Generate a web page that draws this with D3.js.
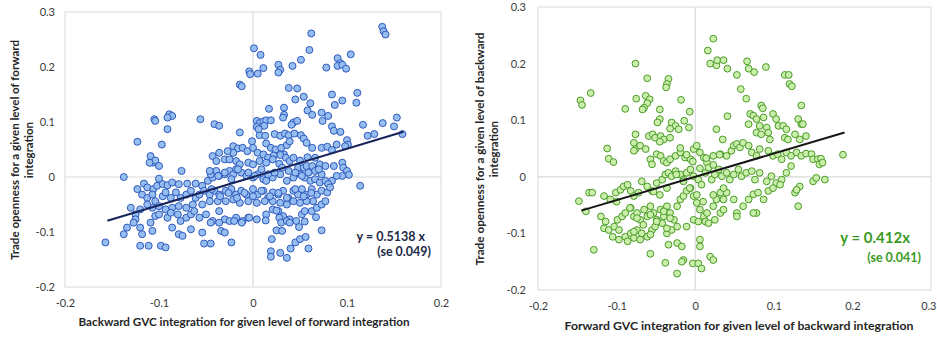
<!DOCTYPE html>
<html>
<head>
<meta charset="utf-8">
<script src="https://cdn.jsdelivr.net/npm/d3@7/dist/d3.min.js"></script>
<style>
  html, body { margin: 0; padding: 0; background: #fff; }
  svg { display: block; font-family: Lato, "Open Sans", sans-serif; }
</style>
</head>
<body>
<svg id="chart" width="937" height="337"></svg>
<script>
// Backward GVC integration (x) vs trade openness (y), for a given level of forward integration
const backwardPoints = [
  [0.1375,0.273],[0.139,0.265],[0.141,0.259],[0.062,0.261],[0.001,0.234],[0.008,0.222],[0.060,0.231],[0.051,0.213],
  [0.104,0.223],[0.090,0.216],[0.093,0.207],[0.090,0.202],[0.095,0.204],[0.099,0.197],[0.078,0.199],[0.042,0.202],
  [0.027,0.204],[0.029,0.195],[0.027,0.190],[0.011,0.198],[-0.004,0.192],[-0.003,0.187],[0.005,0.188],[-0.014,0.168],
  [-0.012,0.165],[0.038,0.162],[0.047,0.161],[0.045,0.141],[0.054,0.146],[0.084,0.150],[0.111,0.153],[0.110,0.135],
  [0.061,0.134],[0.058,0.121],[0.087,0.131],[0.095,0.139],[0.017,0.124],[0.033,0.126],[0.033,0.113],[0.032,0.108],
  [0.073,0.117],[0.080,0.111],[0.063,0.113],[-0.089,0.114],[-0.086,0.111],[-0.091,0.108],[-0.105,0.105],[-0.104,0.102],
  [-0.056,0.105],[-0.041,0.096],[-0.036,0.093],[-0.091,0.087],[0.004,0.102],[0.007,0.098],[0.011,0.101],[0.014,0.103],
  [0.019,0.103],[0.012,0.093],[0.004,0.091],[0.043,0.099],[0.047,0.102],[0.041,0.095],[0.074,0.102],[0.117,0.095],
  [0.138,0.098],[0.150,0.092],[0.153,0.108],[0.159,0.078],[0.122,0.075],[0.129,0.078],[0.084,0.092],[0.086,0.084],
  [0.093,0.082],[-0.014,0.081],[0.007,0.076],[0.013,0.075],[0.006,0.087],[-0.001,0.065],[0.023,0.078],[0.029,0.075],
  [0.034,0.079],[0.038,0.076],[0.044,0.079],[0.051,0.076],[0.054,0.070],[-0.123,0.064],[-0.097,0.059],[0.100,0.067],
  [0.101,0.059],[0.098,0.056],[0.057,0.062],[0.063,0.053],[0.073,0.053],[0.079,0.055],[0.084,0.049],[0.089,0.059],
  [0.014,0.061],[0.019,0.053],[0.024,0.050],[0.030,0.053],[0.036,0.058],[0.039,0.065],[0.033,0.041],[0.029,0.040],
  [0.022,0.039],[-0.021,0.056],[-0.016,0.052],[-0.011,0.053],[-0.006,0.047],[0.000,0.053],[0.005,0.044],[0.011,0.041],
  [0.016,0.035],[0.021,0.032],[-0.021,0.044],[-0.027,0.047],[-0.036,0.044],[-0.043,0.038],[-0.039,0.029],[-0.030,0.032],
  [-0.025,0.032],[-0.018,0.029],[-0.014,0.023],[-0.005,0.026],[0.000,0.023],[0.007,0.029],[0.014,0.026],[0.028,0.024],
  [0.035,0.035],[0.039,0.029],[0.043,0.035],[0.050,0.030],[0.058,0.036],[0.066,0.035],[0.071,0.023],[0.077,0.020],
  [0.048,0.017],[0.054,0.017],[0.057,0.020],[0.063,0.020],[0.066,0.011],[0.086,0.020],[0.095,0.026],[0.096,0.017],
  [0.100,0.011],[0.102,0.004],[0.095,0.002],[0.089,0.002],[0.084,-0.007],[0.114,-0.016],[-0.109,0.038],[-0.107,0.026],
  [-0.104,0.030],[-0.100,0.020],[-0.110,0.026],[-0.076,0.011],[-0.1375,0.000],[-0.100,-0.003],[-0.116,-0.012],[-0.1125,-0.019],
  [-0.106,-0.022],[-0.102,-0.016],[-0.096,-0.013],[-0.091,-0.015],[-0.086,-0.010],[-0.079,-0.013],[-0.070,-0.012],[-0.061,-0.012],
  [-0.054,-0.016],[-0.048,-0.007],[-0.043,-0.001],[-0.039,0.011],[-0.045,0.005],[-0.036,0.002],[-0.030,0.005],[-0.025,0.011],
  [-0.021,0.005],[-0.018,0.014],[-0.0125,0.008],[-0.007,0.002],[0.000,-0.001],[0.005,0.005],[0.011,-0.004],[0.014,-0.007],
  [0.021,-0.001],[0.029,0.005],[0.036,-0.007],[0.043,-0.001],[0.050,0.005],[0.055,-0.001],[0.061,-0.007],[0.066,-0.004],
  [0.071,-0.010],[0.077,-0.007],[0.080,-0.013],[0.073,0.005],[0.070,0.014],[-0.123,-0.022],[-0.118,-0.032],[-0.1125,-0.038],
  [-0.107,-0.032],[-0.104,-0.044],[-0.096,-0.035],[-0.093,-0.028],[-0.0875,-0.038],[-0.082,-0.028],[-0.077,-0.038],[-0.071,-0.032],
  [-0.066,-0.025],[-0.061,-0.038],[-0.057,-0.032],[-0.052,-0.025],[-0.046,-0.032],[-0.041,-0.025],[-0.036,-0.032],[-0.029,-0.025],
  [-0.023,-0.022],[-0.018,-0.032],[-0.0125,-0.025],[-0.007,-0.032],[0.000,-0.022],[0.005,-0.032],[0.011,-0.025],[0.016,-0.038],
  [0.021,-0.028],[0.027,-0.032],[0.032,-0.025],[0.0375,-0.038],[0.043,-0.025],[0.048,-0.032],[0.052,-0.022],[0.057,-0.032],
  [0.0625,-0.022],[0.068,-0.032],[0.073,-0.025],[0.079,-0.028],[0.082,-0.019],[0.064,-0.044],[0.057,-0.044],[0.050,-0.047],
  [0.043,-0.044],[0.036,-0.050],[0.029,-0.047],[0.021,-0.044],[0.0125,-0.044],[0.004,-0.047],[-0.005,-0.044],[-0.014,-0.047],
  [-0.021,-0.041],[-0.029,-0.044],[-0.0375,-0.044],[-0.046,-0.044],[-0.054,-0.050],[-0.064,-0.050],[-0.071,-0.056],[-0.079,-0.053],
  [-0.086,-0.056],[-0.093,-0.059],[-0.100,-0.053],[-0.107,-0.056],[-0.1125,-0.050],[-0.120,-0.059],[-0.125,-0.068],[-0.130,-0.056],
  [-0.125,-0.077],[-0.127,-0.083],[-0.134,-0.092],[-0.1375,-0.104],[-0.120,-0.092],[-0.118,-0.104],[-0.120,-0.125],[-0.111,-0.125],
  [-0.107,-0.098],[-0.109,-0.083],[-0.104,-0.071],[-0.100,-0.068],[-0.091,-0.074],[-0.0875,-0.065],[-0.080,-0.068],[-0.077,-0.080],
  [-0.071,-0.074],[-0.066,-0.068],[-0.0625,-0.062],[-0.057,-0.074],[-0.050,-0.068],[-0.043,-0.080],[-0.036,-0.062],[-0.030,-0.077],
  [-0.025,-0.080],[-0.018,-0.074],[-0.011,-0.080],[-0.005,-0.074],[0.014,-0.068],[0.021,-0.059],[0.027,-0.062],[0.032,-0.071],
  [0.039,-0.077],[0.046,-0.080],[0.052,-0.068],[0.055,-0.062],[0.0625,-0.062],[0.068,-0.056],[0.073,-0.050],[-0.157,-0.119],
  [-0.098,-0.125],[-0.093,-0.128],[-0.086,-0.092],[-0.079,-0.104],[-0.075,-0.107],[-0.066,-0.095],[-0.054,-0.101],[-0.052,-0.121],
  [-0.045,-0.121],[-0.045,-0.083],[-0.036,-0.083],[-0.034,-0.098],[-0.030,-0.101],[-0.023,-0.119],[-0.020,-0.080],[-0.012,-0.083],
  [-0.004,-0.074],[0.004,-0.077],[0.0135,-0.079],[0.025,-0.061],[0.028,-0.074],[0.030,-0.083],[0.036,-0.080],[0.039,-0.083],
  [0.025,-0.097],[0.031,-0.098],[0.020,-0.113],[0.019,-0.135],[0.019,-0.145],[0.029,-0.138],[0.036,-0.147],[0.040,-0.130],
  [0.045,-0.119],[0.050,-0.113],[0.056,-0.109],[0.059,-0.130],[0.049,-0.091],[0.055,-0.081],[0.067,-0.073],[0.073,-0.097],
  [0.077,-0.044],[-0.046,0.011],[-0.037,0.002],[-0.030,0.008],[-0.023,-0.004],[-0.016,0.014],[-0.005,0.008],[0.002,0.002],
  [0.009,0.014],[0.016,0.005],[0.023,0.008],[0.031,0.017],[0.038,0.011],[0.045,0.008],[0.052,0.002],[0.059,0.008],
  [-0.044,-0.022],[-0.035,-0.035],[-0.026,-0.029],[-0.017,-0.038],[-0.009,-0.029],[0.000,-0.035],[0.009,-0.025],[0.018,-0.035],
  [0.027,-0.029],[0.036,-0.038],[0.045,-0.022],[0.054,-0.035],[0.062,-0.029]
];

// Forward GVC integration (x) vs trade openness (y), for a given level of backward integration
const forwardPoints = [
  [0.023,0.244],[0.016,0.223],[0.019,0.200],[0.027,0.197],[0.028,0.206],[0.036,0.206],[0.041,0.191],[0.053,0.180],
  [0.066,0.204],[0.068,0.191],[0.075,0.185],[0.090,0.194],[0.058,0.155],[0.065,0.138],[0.114,0.180],[0.119,0.180],
  [0.120,0.164],[0.123,0.160],[-0.076,0.200],[-0.061,0.174],[-0.034,0.173],[-0.036,0.164],[-0.037,0.158],[-0.146,0.135],
  [-0.144,0.127],[-0.133,0.148],[-0.075,0.138],[-0.063,0.143],[-0.058,0.137],[-0.061,0.130],[-0.065,0.122],[-0.067,0.119],
  [-0.089,0.120],[-0.018,0.136],[-0.007,0.115],[-0.045,0.119],[-0.045,0.102],[-0.048,0.096],[-0.014,0.099],[-0.008,0.087],
  [-0.030,0.096],[-0.025,0.090],[-0.021,0.084],[-0.032,0.085],[-0.076,0.075],[-0.059,0.072],[-0.054,0.075],[-0.051,0.069],
  [-0.044,0.072],[-0.040,0.066],[-0.045,0.062],[-0.032,0.069],[0.027,0.084],[0.041,0.107],[0.035,0.066],[0.070,0.111],
  [0.074,0.108],[0.078,0.102],[0.082,0.090],[0.087,0.105],[0.091,0.087],[0.099,0.111],[0.103,0.102],[0.106,0.090],
  [0.068,0.093],[0.078,0.078],[0.084,0.075],[0.093,0.078],[0.095,0.066],[0.084,0.126],[0.086,0.121],[0.135,0.126],
  [0.131,0.102],[0.135,0.093],[0.137,0.093],[0.112,0.090],[0.116,0.084],[0.114,0.069],[0.118,0.066],[0.127,0.075],
  [0.133,0.066],[0.141,0.072],[-0.112,0.050],[-0.110,0.032],[-0.104,0.026],[-0.078,0.060],[-0.076,0.049],[-0.078,0.046],
  [-0.070,0.055],[-0.063,0.049],[-0.057,0.031],[-0.055,0.022],[-0.049,0.040],[-0.044,0.037],[-0.040,0.028],[-0.036,0.025],
  [-0.032,0.031],[-0.025,0.037],[-0.019,0.043],[-0.013,0.034],[-0.006,0.031],[-0.002,0.049],[0.002,0.055],[0.006,0.043],
  [0.011,0.034],[0.015,0.025],[0.023,0.037],[0.032,0.040],[0.040,0.037],[0.046,0.046],[0.049,0.055],[0.053,0.058],
  [0.057,0.052],[0.061,0.060],[0.068,0.055],[0.072,0.043],[0.078,0.037],[0.082,0.049],[0.093,0.046],[0.099,0.037],
  [0.105,0.040],[0.110,0.031],[0.116,0.043],[0.122,0.037],[0.129,0.043],[0.135,0.037],[0.141,0.041],[0.148,0.040],
  [0.150,0.031],[0.156,0.031],[0.160,0.032],[0.158,0.022],[0.162,0.025],[0.188,0.039],[-0.148,-0.043],[-0.139,-0.061],
  [-0.135,-0.028],[-0.131,-0.028],[-0.116,-0.034],[-0.108,-0.040],[-0.101,-0.028],[-0.095,-0.023],[-0.091,-0.017],[-0.086,-0.014],
  [-0.082,-0.025],[-0.078,-0.034],[-0.072,-0.028],[-0.068,-0.008],[-0.061,-0.017],[-0.055,-0.025],[-0.049,-0.011],[-0.042,-0.005],
  [-0.038,0.004],[-0.034,0.007],[-0.030,0.001],[-0.025,0.010],[-0.019,0.004],[-0.015,-0.005],[-0.011,0.007],[-0.006,0.013],
  [-0.002,0.001],[0.004,-0.005],[0.008,-0.014],[0.013,0.007],[0.017,0.016],[0.021,-0.005],[0.025,0.004],[0.030,0.013],
  [0.034,0.001],[0.040,0.007],[0.044,-0.005],[0.049,0.004],[0.055,0.013],[0.059,0.001],[0.065,0.007],[0.072,0.010],
  [0.076,-0.005],[0.082,0.007],[0.091,-0.008],[0.097,0.001],[0.103,-0.011],[0.110,-0.005],[0.116,0.007],[0.122,0.019],
  [0.127,-0.028],[0.133,-0.017],[0.129,-0.023],[0.150,-0.008],[0.154,-0.002],[0.165,-0.005],[0.131,-0.052],[-0.120,-0.070],
  [-0.114,-0.079],[-0.116,-0.091],[-0.110,-0.094],[-0.103,-0.088],[-0.099,-0.076],[-0.093,-0.070],[-0.089,-0.064],[-0.082,-0.055],
  [-0.078,-0.070],[-0.074,-0.064],[-0.070,-0.076],[-0.065,-0.058],[-0.061,-0.070],[-0.057,-0.052],[-0.053,-0.064],[-0.049,-0.076],
  [-0.044,-0.058],[-0.040,-0.070],[-0.036,-0.052],[-0.032,-0.064],[-0.027,-0.076],[-0.023,-0.052],[-0.019,-0.040],[-0.015,-0.034],
  [-0.011,-0.025],[-0.006,-0.020],[-0.002,-0.034],[0.002,-0.046],[0.006,-0.058],[0.011,-0.070],[0.015,-0.064],[0.023,-0.052],
  [0.027,-0.040],[0.032,-0.028],[0.036,-0.040],[0.040,-0.028],[0.049,-0.040],[0.053,-0.064],[0.061,-0.052],[0.068,-0.040],
  [0.074,-0.031],[0.078,-0.064],[0.080,-0.028],[0.087,-0.040],[0.093,-0.025],[0.099,-0.020],[0.108,-0.014],[-0.105,-0.106],
  [-0.097,-0.111],[-0.089,-0.106],[-0.082,-0.100],[-0.074,-0.094],[-0.068,-0.100],[-0.061,-0.106],[-0.055,-0.094],[-0.051,-0.088],
  [-0.042,-0.082],[-0.036,-0.100],[-0.030,-0.094],[-0.023,-0.088],[-0.097,-0.094],[-0.086,-0.114],[-0.078,-0.108],[-0.070,-0.111],
  [-0.034,-0.120],[-0.023,-0.117],[-0.017,-0.123],[-0.015,-0.147],[-0.017,-0.150],[-0.023,-0.171],[-0.057,-0.136],[-0.038,-0.152],
  [-0.003,-0.153],[0.004,-0.153],[0.006,-0.111],[0.006,-0.123],[0.008,-0.162],[0.019,-0.141],[0.023,-0.147],[-0.011,-0.088],
  [-0.002,-0.076],[0.004,-0.079],[0.013,-0.079],[0.017,-0.082],[0.025,-0.076],[0.032,-0.064],[0.036,-0.058],[0.053,-0.070],
  [0.074,-0.064],[-0.129,-0.129],[-0.100,-0.044],[-0.083,-0.055],[-0.074,-0.073],[-0.066,-0.085],[-0.057,-0.067],[-0.049,-0.079],
  [-0.040,-0.061],[-0.032,-0.073],[-0.036,-0.091],[-0.057,-0.102],[-0.078,-0.097],[-0.045,-0.032],[-0.036,-0.020],[-0.053,-0.026],
  [-0.019,0.051],[-0.011,0.039],[-0.003,0.027],[0.006,0.015],[0.014,0.033],[0.023,0.021],[0.031,0.039],[-0.024,0.004],
  [-0.015,-0.008],[-0.007,-0.020],[0.002,-0.032],[0.010,-0.044],[0.023,-0.032],[0.036,-0.020]
];

// Axis ticks and labels
const backwardXTicks = [-0.2, -0.1, 0, 0.1, 0.2];
const backwardXLabels = ["-0.2", "-0.1", "0", "0.1", "0.2"];
const forwardXTicks = [-0.2, -0.1, 0, 0.1, 0.2, 0.3];
const forwardXLabels = ["-0.2", "-0.1", "0", "0.1", "0.2", "0.3"];
const yTicks = [-0.2, -0.1, 0, 0.1, 0.2, 0.3];
const yLabels = ["-0.2", "-0.1", "0", "0.1", "0.2", "0.3"];

// Fitted lines through the origin: slope, standard error, x extent of the fit
const backwardSlope = 0.5138, backwardSE = 0.049, backwardFitRange = [-0.155, 0.16];
const forwardSlope = 0.412, forwardSE = 0.041, forwardFitRange = [-0.145, 0.19];

const svg = d3.select("#chart");

function drawPanel(cfg) {
  const x = d3.scaleLinear().domain(cfg.xDomain).range([cfg.left, cfg.right]);
  const y = d3.scaleLinear().domain([-0.2, 0.3]).range([cfg.bottom, cfg.top]);
  const g = svg.append("g");

  // plot area frame
  g.append("rect")
    .attr("x", cfg.left).attr("y", cfg.top)
    .attr("width", cfg.right - cfg.left).attr("height", cfg.bottom - cfg.top)
    .attr("fill", "none").attr("stroke", "#dadada").attr("stroke-width", 1);

  // zero lines
  g.append("line")
    .attr("x1", x(0)).attr("x2", x(0)).attr("y1", cfg.top).attr("y2", cfg.bottom)
    .attr("stroke", "#d9d9d9").attr("stroke-width", 1.2);
  g.append("line")
    .attr("x1", cfg.left).attr("x2", cfg.right).attr("y1", y(0)).attr("y2", y(0))
    .attr("stroke", "#d9d9d9").attr("stroke-width", 1.2);

  // axes (labels only)
  const xAxis = d3.axisBottom(x).tickValues(cfg.xTicks)
    .tickFormat((d, i) => cfg.xLabels[i]).tickSize(0).tickPadding(cfg.xPad);
  const yAxis = d3.axisLeft(y).tickValues(yTicks)
    .tickFormat((d, i) => yLabels[i]).tickSize(0).tickPadding(cfg.yPad);
  const gx = g.append("g").attr("transform", `translate(0,${cfg.bottom})`).call(xAxis);
  const gy = g.append("g").attr("transform", `translate(${cfg.left},0)`).call(yAxis);
  [gx, gy].forEach(a => {
    a.select(".domain").remove();
    a.selectAll("text").attr("font-family", "Lato, sans-serif")
      .attr("font-size", 11).attr("fill", "#3a3a3a");
  });
  // keep the last x label inside the page edge
  if (cfg.clampLastX) {
    gx.selectAll(".tick:last-of-type text").attr("text-anchor", "end").attr("dx", 5);
  }

  // points
  g.append("g").selectAll("circle").data(cfg.points).join("circle")
    .attr("cx", d => x(d[0])).attr("cy", d => y(d[1])).attr("r", cfg.r)
    .attr("fill", cfg.fill).attr("stroke", cfg.stroke).attr("stroke-width", 1);

  // fitted line y = slope * x
  g.append("path")
    .datum(cfg.fitRange)
    .attr("d", d3.line().x(d => x(d)).y(d => y(cfg.slope * d)))
    .attr("stroke", cfg.lineColor).attr("stroke-width", 2).attr("fill", "none");

  // equation
  g.append("text").attr("x", cfg.eq1[0]).attr("y", cfg.eq1[1])
    .attr("text-anchor", "end").attr("font-weight", "bold").attr("font-size", cfg.eqSize)
    .attr("fill", cfg.eqColor).text(cfg.eqText);
  g.append("text").attr("x", cfg.eq2[0]).attr("y", cfg.eq2[1])
    .attr("text-anchor", "end").attr("font-weight", "bold").attr("font-size", 12.5)
    .attr("fill", cfg.eqColor).text(`(se ${cfg.se.toFixed(3)})`);

  // x-axis title
  g.append("text").attr("x", cfg.xTitlePos[0]).attr("y", cfg.xTitlePos[1])
    .attr("text-anchor", "middle").attr("font-weight", "bold").attr("font-size", 11.5)
    .attr("fill", "#262626").attr("textLength", cfg.xTitleLen).attr("lengthAdjust", "spacingAndGlyphs")
    .text(cfg.xTitle);

  // y-axis title (two lines, rotated)
  const yt = g.append("text")
    .attr("transform", `translate(${cfg.yTitleX},${cfg.yTitleY}) rotate(-90)`)
    .attr("text-anchor", "middle").attr("font-weight", "bold").attr("font-size", 11.5)
    .attr("fill", "#262626");
  yt.append("tspan").attr("x", 0).attr("y", 0)
    .attr("textLength", cfg.yTitleLen).attr("lengthAdjust", "spacingAndGlyphs")
    .text(cfg.yTitle[0]);
  yt.append("tspan").attr("x", 0).attr("y", 14).text(cfg.yTitle[1]);
}

drawPanel({
  left: 65, right: 441, top: 12, bottom: 287,
  xDomain: [-0.2, 0.2], xTicks: backwardXTicks, xLabels: backwardXLabels,
  xPad: 12, yPad: 10, clampLastX: false,
  points: backwardPoints, r: 3.5, fill: "#95bdef", stroke: "#2d59bd",
  slope: backwardSlope, fitRange: backwardFitRange, lineColor: "#17245a",
  se: backwardSE, eqText: `y = ${backwardSlope} x`, eqSize: 12.5, eqColor: "#1e2a48",
  eq1: [425, 241], eq2: [431, 256],
  xTitle: "Backward GVC integration  for given level of forward integration",
  xTitlePos: [244, 326], xTitleLen: 331,
  yTitle: ["Trade openness for a given level of forward", "integration"],
  yTitleX: 19, yTitleY: 150, yTitleLen: 220
});

drawPanel({
  left: 538, right: 931, top: 7, bottom: 290,
  xDomain: [-0.2, 0.3], xTicks: forwardXTicks, xLabels: forwardXLabels,
  xPad: 12, yPad: 12, clampLastX: true,
  points: forwardPoints, r: 3.4, fill: "#c9efaa", stroke: "#4a9a28",
  slope: forwardSlope, fitRange: forwardFitRange, lineColor: "#151515",
  se: forwardSE, eqText: `y = ${forwardSlope}x`, eqSize: 15, eqColor: "#3a9a1e",
  eq1: [910, 243], eq2: [921, 262],
  xTitle: "Forward GVC integration  for given level of backward integration",
  xTitlePos: [739, 330], xTitleLen: 349,
  yTitle: ["Trade openness for a given level of backward", "integration"],
  yTitleX: 484, yTitleY: 149, yTitleLen: 233
});
</script>
</body>
</html>
